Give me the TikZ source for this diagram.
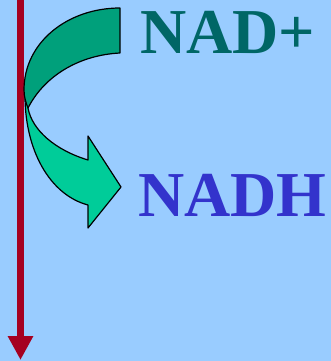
\documentclass[tikz,border=0pt]{standalone}
\usepackage{fontspec}
\setmainfont{Liberation Serif}
\usetikzlibrary{arrows.meta}
\definecolor{bg}{HTML}{99CCFF}
\definecolor{darkgreen}{HTML}{00A07B}
\definecolor{lightgreen}{HTML}{00CC99}
\definecolor{nadplus}{HTML}{006666}
\definecolor{nadh}{HTML}{3333CC}
\definecolor{redline}{HTML}{A50021}
\tikzset{
  band/.style={draw=black, line width=1.2pt, line join=round},
  label/.style={anchor=base west, inner sep=0pt, font=\fontsize{64}{64}\selectfont\bfseries},
}
\begin{document}
\begin{tikzpicture}[x=1pt,y=-1pt]
\fill[bg] (0,0) rectangle (331,361);
\useasboundingbox (0,0) rectangle (331,361);
% red arrow
\coordinate (rtop) at (20.5,0);
\coordinate (rbot) at (20.5,360);
\draw[redline, line width=7pt, -{Triangle[width=24pt,length=24pt]}] (rtop) -- (rbot);
% light lower band with arrowhead
\path[band, fill=lightgreen] (25,92) .. controls (24,150) and (50,195) .. (88,205)
  -- (88,228) -- (121,187) -- (88,136) -- (88,160)
  .. controls (55,150) and (32,130) .. (28,108) -- cycle;
% dark upper band
\path[band, fill=darkgreen] (120,8) .. controls (68,8) and (24,42) .. (24,90)
  .. controls (24,97) and (26,103) .. (28,108)
  .. controls (45,75) and (80,55) .. (120,53) -- cycle;
% labels
\node[label, text=nadplus] (nadp) at (140,53) {NAD+};
\node[label, text=nadh] (nadh) at (138,216) {NADH};
\end{tikzpicture}
\end{document}
